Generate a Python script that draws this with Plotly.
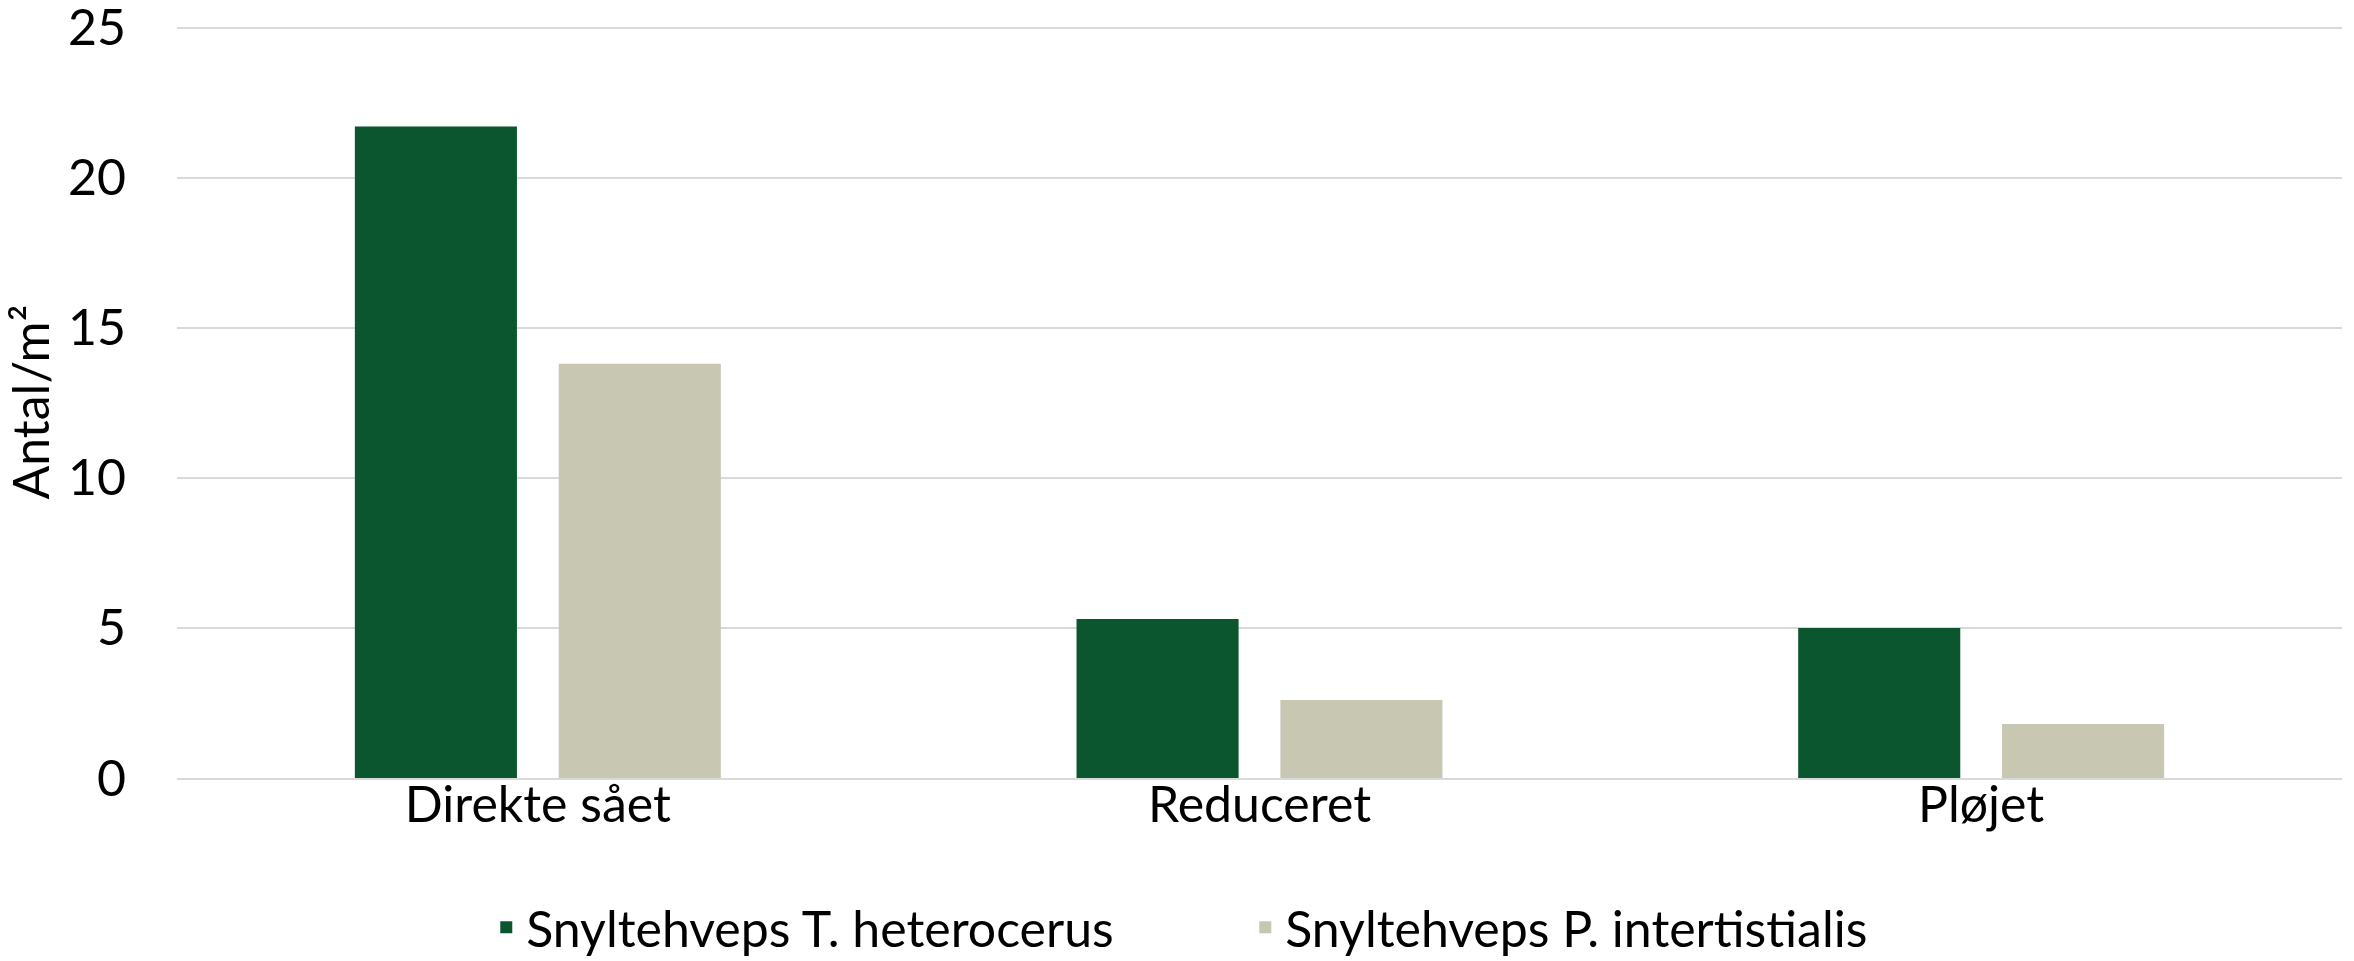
import plotly.graph_objects as go

categories = ["Direkte sået", "Reduceret", "Pløjet"]
series_names = ["Snyltehveps T. heterocerus", "Snyltehveps P. intertistialis"]
t_heterocerus = [21.7, 5.3, 5.0]
p_intertistialis = [13.8, 2.6, 1.8]
colors = ["#0B562F", "#C8C7B2"]
y_ticks = [0, 5, 10, 15, 20, 25]

FONT = "Lato"
fig = go.Figure()
for name, vals, col in zip(series_names, [t_heterocerus, p_intertistialis], colors):
    fig.add_trace(go.Bar(x=categories, y=vals, name=name, marker=dict(color=col, line=dict(width=0))))

fig.update_layout(
    width=2354, height=961,
    margin=dict(l=177, r=12, t=26, b=183, autoexpand=False),
    paper_bgcolor="white", plot_bgcolor="white",
    barmode="group", bargap=0.435, bargroupgap=0.205,
    font=dict(family=FONT, size=50, color="#000000"),
    legend=dict(orientation="h", xref="container", yref="container", x=0.529, xanchor="center",
                y=0.035, yanchor="middle", font=dict(size=50), entrywidth=714, traceorder="normal"),
    showlegend=True,
)
fig.update_yaxes(range=[0, 25.05], tickvals=y_ticks, showgrid=True, gridcolor="#D9D9D9", gridwidth=2,
                 zeroline=False, showline=False, ticks="", ticklabelstandoff=50, ticklabeloverflow="allow",
                 title=dict(text="Antal/m²", standoff=18, font=dict(size=50)))
fig.update_xaxes(showline=True, linecolor="#D9D9D9", linewidth=2, ticks="", ticklabelstandoff=-18)

fig.write_html("out.html", config={"displayModeBar": False},
               post_script="document.body.style.margin='0';document.body.style.padding='0';")
